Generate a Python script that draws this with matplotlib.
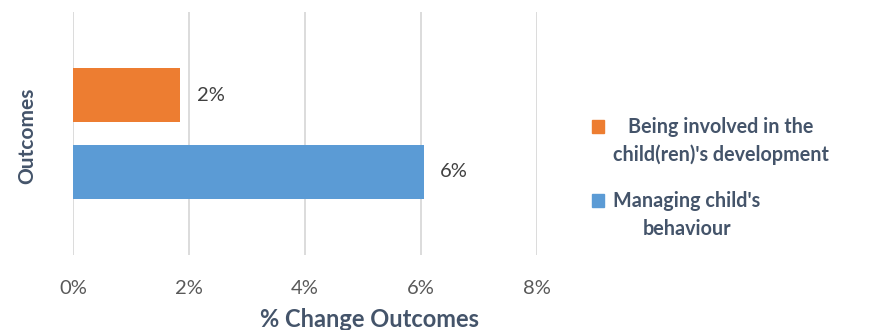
import matplotlib
matplotlib.use("Agg")
import matplotlib.pyplot as plt
from matplotlib.patches import Rectangle

series = ["Managing child's\nbehaviour", "Being involved in the\nchild(ren)'s development"]
values = [6.05, 1.85]
value_labels = ["6%", "2%"]
colors = ["#5B9BD5", "#ED7D31"]
xticks = [0, 2, 4, 6, 8]
xtick_labels = ["0%", "2%", "4%", "6%", "8%"]

plt.rcParams['font.family'] = ['Lato', 'DejaVu Sans']

W, H = 877, 330
fig = plt.figure(figsize=(W/100, H/100), dpi=100)
ax = fig.add_axes([73/W, 1-255/H, (537-73)/W, (255-12)/H])

for i, (v, c, lab) in enumerate(zip(values, colors, series)):
    ax.barh(i, v, height=0.71, color=c, label=lab, zorder=3)
    ax.text(v + 0.28, i, value_labels[i], va='center', ha='left', fontsize=14.5, color='#404040')

ax.set_xlim(0, 8)
ax.set_ylim(-1.08, 2.08)
ax.set_xticks(xticks)
ax.set_xticklabels(xtick_labels, fontsize=14.5, color='#595959')
ax.set_yticks([])
ax.tick_params(axis='x', length=0, pad=18)
ax.grid(axis='x', color='#D9D9D9', linewidth=1.3, zorder=0)
for s in ax.spines.values():
    s.set_visible(False)

fig.text(370/W, 1-327/H, "% Change Outcomes", ha='center', va='baseline',
         fontsize=17, fontweight='bold', color='#44546A')
fig.text(27/W, 1-136/H, "Outcomes", ha='center', va='center', rotation=90,
         fontsize=15, fontweight='bold', color='#44546A')

# legend (orange first, then blue), drawn in figure coordinates
legend_order = [1, 0]
legend_centers = [141, 215]
square_tops = [120, 194]
for idx, yc, sq in zip(legend_order, legend_centers, square_tops):
    fig.patches.append(Rectangle((592/W, 1-(sq+13)/H), 12/W, 13/H,
                                 transform=fig.transFigure, color=colors[idx]))
    fig.text(613/W, 1-yc/H, series[idx], ha='left', va='center', multialignment='center',
             fontsize=14.2, fontweight='bold', color='#44546A', linespacing=1.45)

fig.savefig("out.png", dpi=100)
